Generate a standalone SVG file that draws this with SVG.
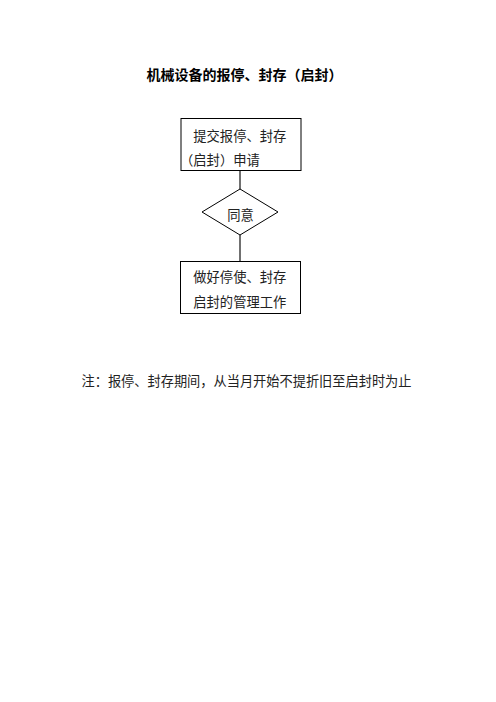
<svg xmlns="http://www.w3.org/2000/svg" width="496" height="702" viewBox="0 0 496 702">
<style>
.t{font-family:"Liberation Serif","Noto Sans CJK SC",serif;font-size:13.3px;fill:#222}
.b{fill:#fff;stroke:#000;stroke-width:1}
.c{stroke:#707070;stroke-width:2;fill:none}
</style>
<rect width="496" height="702" fill="#fff"/>
<text class="t" x="244.5" y="80" text-anchor="middle" style="font-weight:bold;font-size:14px;fill:#000">机械设备的报停、封存（启封）</text>
<g id="connectors">
<line class="c" x1="240" y1="171" x2="240" y2="189"/>
<line class="c" x1="240" y1="235" x2="240" y2="261"/>
</g>
<g id="node-apply">
<rect class="b" x="181" y="118.5" width="120" height="52"/>
<text class="t" x="193.3" y="140.5" textLength="93" lengthAdjust="spacingAndGlyphs">提交报停、封存</text>
<text class="t" x="180" y="165">（启封）申请</text>
</g>
<g id="node-agree">
<polygon class="b" points="240,189 278,212 240,235 202,212"/>
<text class="t" x="240.5" y="220" text-anchor="middle">同意</text>
</g>
<g id="node-work">
<rect class="b" x="180.5" y="261.5" width="120" height="52"/>
<text class="t" x="193.3" y="282" textLength="93" lengthAdjust="spacingAndGlyphs">做好停使、封存</text>
<text class="t" x="193.3" y="306.5" textLength="93" lengthAdjust="spacingAndGlyphs">启封的管理工作</text>
</g>
<text class="t" x="81.5" y="385.7" textLength="330" lengthAdjust="spacingAndGlyphs">注：报停、封存期间，从当月开始不提折旧至启封时为止</text>
</svg>
